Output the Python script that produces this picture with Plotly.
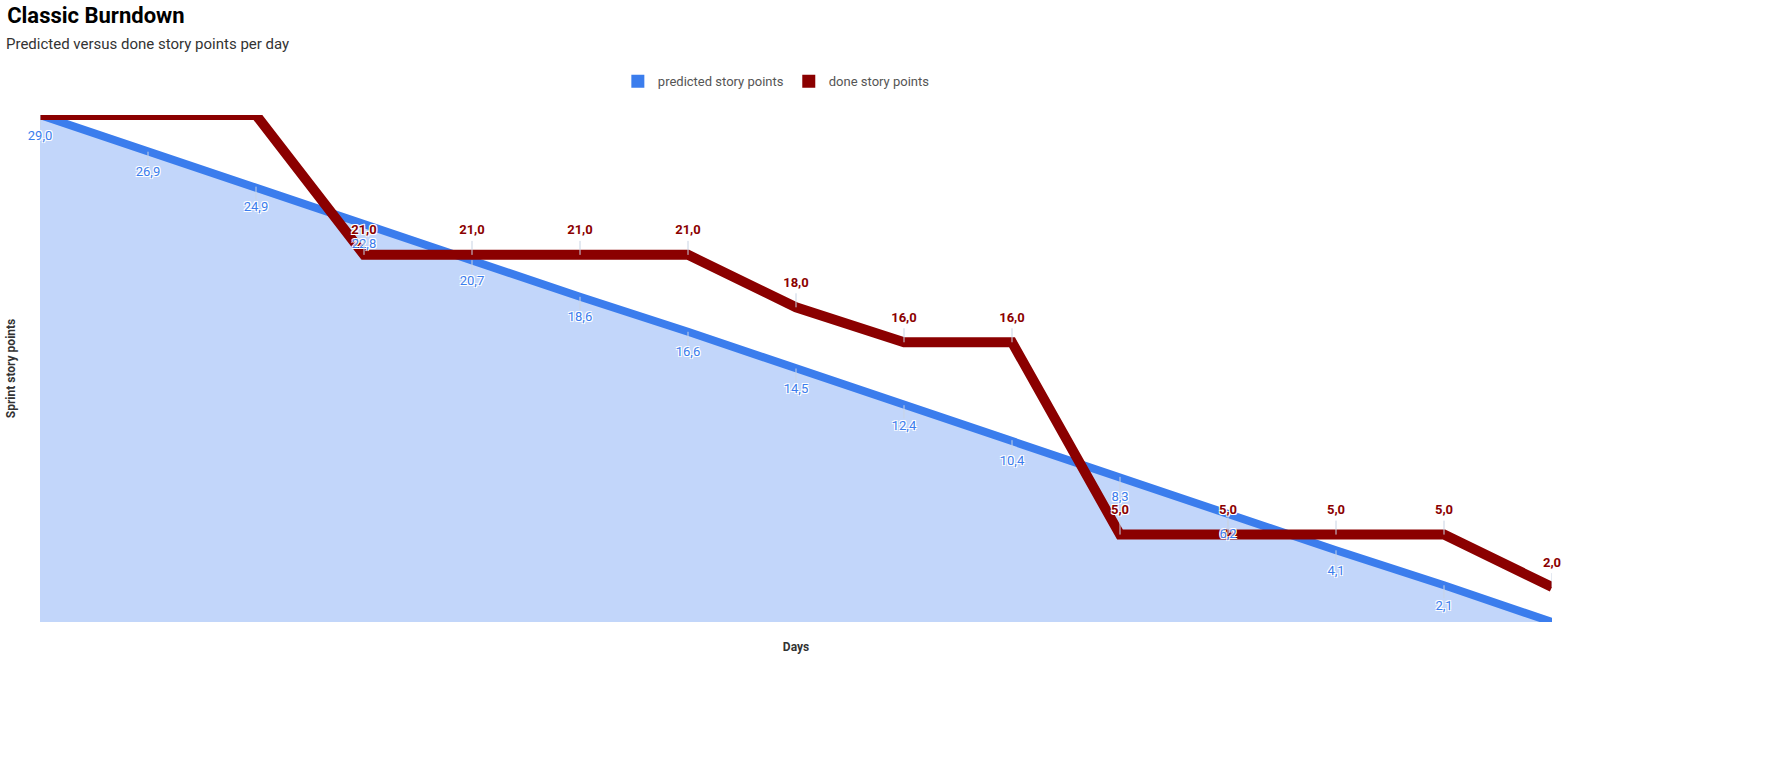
import plotly.graph_objects as go

# Data
days = list(range(15))
predicted = [29.0, 26.9, 24.9, 22.8, 20.7, 18.6, 16.6, 14.5, 12.4, 10.4, 8.3, 6.2, 4.1, 2.1, 0.0]
done = [29, 29, 29, 21, 21, 21, 21, 18, 16, 16, 5, 5, 5, 5, 2]

# label only where the original chart shows one
predicted_labels = [f"{v:.1f}".replace(".", ",") for v in predicted[:-1]] + [""]
done_labels = ["", "", ""] + [f"{v:.1f}".replace(".", ",") for v in done[3:]]

BLUE = "#3b7ded"
FILL = "#c2d6fa"
RED = "#8b0000"
TICK = "#c8d3e3"
OUTLINE = "1px 1px 0 #fff, -1px -1px 0 #fff, 1px -1px 0 #fff, -1px 1px 0 #fff"

fig = go.Figure()

# lines first
fig.add_trace(go.Scatter(
    x=days, y=predicted, mode="lines",
    line=dict(color=BLUE, width=8), fill="tozeroy", fillcolor=FILL,
    cliponaxis=False, showlegend=False, hoverinfo="skip",
))
fig.add_trace(go.Scatter(
    x=days, y=done, mode="lines",
    line=dict(color=RED, width=10),
    cliponaxis=False, showlegend=False, hoverinfo="skip",
))

# value labels on top of both lines, with small connector ticks
fig.add_trace(go.Scatter(
    x=days[:-1], y=predicted[:-1], mode="markers+text",
    marker=dict(size=22, color="rgba(0,0,0,0)"),
    error_y=dict(type="data", symmetric=False, array=[0] * 14, arrayminus=[0.75] * 14,
                 color=TICK, thickness=1, width=0),
    text=predicted_labels[:-1], textposition="bottom center",
    textfont=dict(family="Roboto", size=13, color=BLUE, shadow=OUTLINE),
    cliponaxis=False, showlegend=False, hoverinfo="skip",
))
fig.add_trace(go.Scatter(
    x=days[3:], y=done[3:], mode="markers+text",
    marker=dict(size=26, color="rgba(0,0,0,0)"),
    error_y=dict(type="data", symmetric=False, array=[0.8] * 12, arrayminus=[0] * 12,
                 color=TICK, thickness=1, width=0),
    text=done_labels[3:], textposition="top center",
    textfont=dict(family="Roboto", size=13, color=RED, weight="bold", shadow=OUTLINE),
    cliponaxis=False, showlegend=False, hoverinfo="skip",
))

# legend entries with square swatches
for name, color in [("predicted story points", BLUE), ("done story points", RED)]:
    fig.add_trace(go.Scatter(
        x=[None], y=[None], mode="markers", name=name,
        marker=dict(symbol="square", size=13, color=color),
    ))

fig.update_layout(
    width=1790, height=760,
    paper_bgcolor="white", plot_bgcolor="white",
    font=dict(family="Roboto", color="#333"),
    margin=dict(l=38, r=238, t=115, b=138),
    title=dict(
        text="<b>Classic Burndown</b>",
        x=0.004, xanchor="left", y=0.99, yanchor="top",
        font=dict(size=22, color="#000"),
    ),
    legend=dict(
        orientation="h", x=0.487, xanchor="center", y=0.893, yanchor="middle",
        yref="container", font=dict(size=13, color="#555"),
    ),
    xaxis=dict(
        range=[0, 14], showgrid=False, zeroline=False, showticklabels=False,
        showline=False, title=dict(text="<b>Days</b>", font=dict(size=12, color="#333"), standoff=20),
    ),
    yaxis=dict(
        range=[0, 29], showgrid=False, zeroline=False, showticklabels=False,
        showline=False, title=dict(text="<b>Sprint story points</b>", font=dict(size=12, color="#333"), standoff=20),
    ),
)

fig.add_annotation(
    text="Predicted versus done story points per day",
    xref="paper", yref="paper", x=-0.0235, y=1.14, xanchor="left", yanchor="middle",
    showarrow=False, font=dict(size=15, color="#333"),
)

fig.write_html("out.html", config={"displayModeBar": False},
               post_script="document.body.style.margin='0';")
